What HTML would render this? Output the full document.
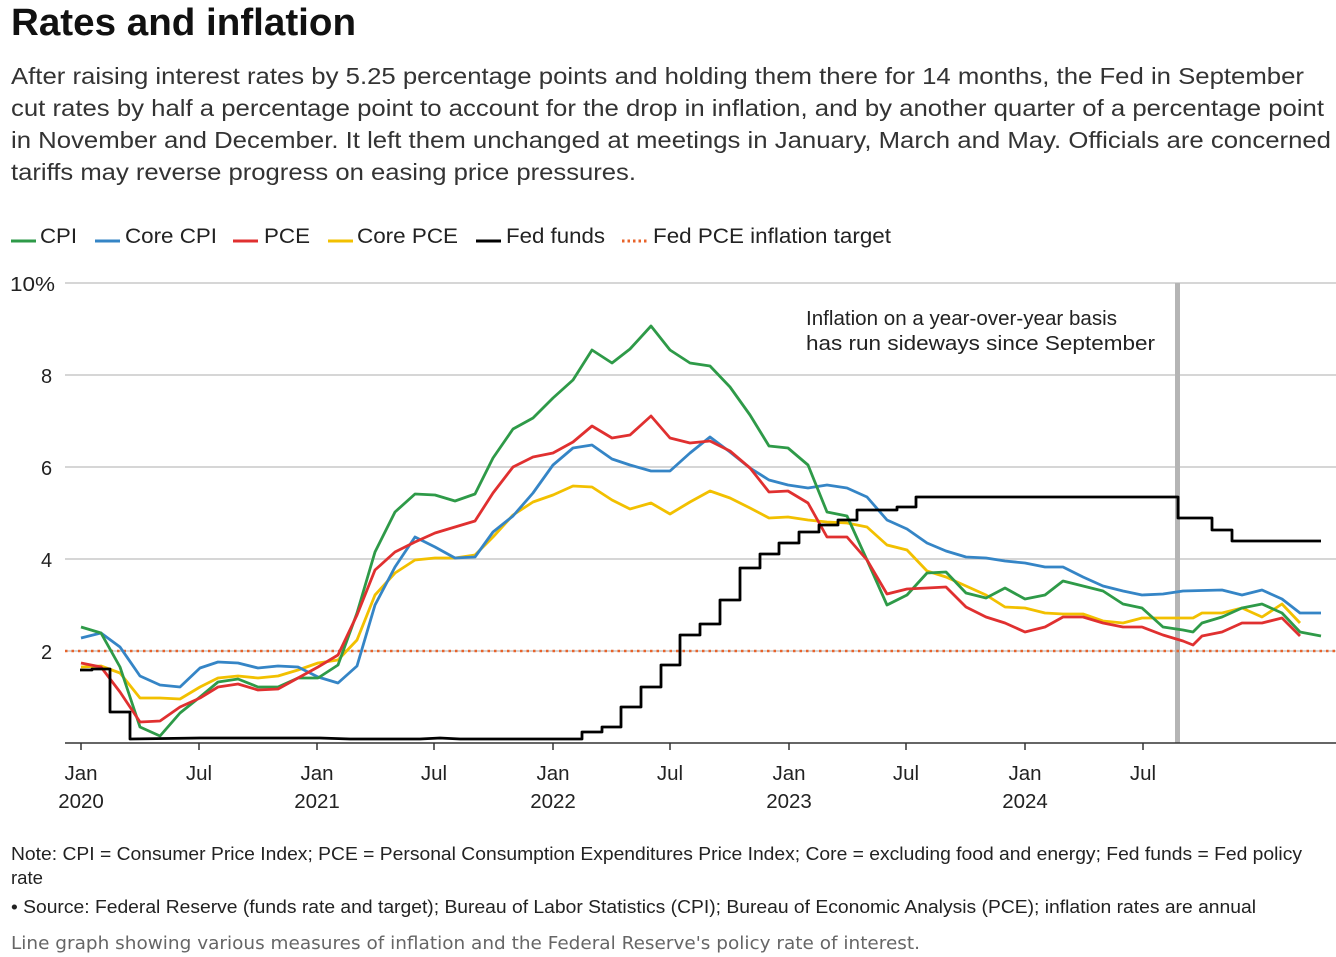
<!DOCTYPE html>
<html><head><meta charset="utf-8"><style>
body{margin:0;background:#fff;width:1336px;height:957px;overflow:hidden}
</style></head><body>
<svg width="1336" height="957" style="position:absolute;left:0;top:0" font-family="Liberation Sans, Arial, sans-serif">
<text x="11" y="35" font-size="38" font-weight="bold" fill="#111" textLength="345" lengthAdjust="spacingAndGlyphs">Rates and inflation</text>
<g font-size="23.5" fill="#333">
<text x="11" y="84" textLength="1293" lengthAdjust="spacingAndGlyphs">After raising interest rates by 5.25 percentage points and holding them there for 14 months, the Fed in September</text>
<text x="11" y="116" textLength="1313" lengthAdjust="spacingAndGlyphs">cut rates by half a percentage point to account for the drop in inflation, and by another quarter of a percentage point</text>
<text x="11" y="148" textLength="1320" lengthAdjust="spacingAndGlyphs">in November and December. It left them unchanged at meetings in January, March and May. Officials are concerned</text>
<text x="11" y="180" textLength="625" lengthAdjust="spacingAndGlyphs">tariffs may reverse progress on easing price pressures.</text>
</g>
<g font-size="21" fill="#222">
<line x1="11" y1="241" x2="36" y2="241" stroke="#2e9a48" stroke-width="3"/><text x="40" y="243" textLength="37" lengthAdjust="spacingAndGlyphs">CPI</text>
<line x1="95" y1="241" x2="120" y2="241" stroke="#3585c6" stroke-width="3"/><text x="125" y="243" textLength="92" lengthAdjust="spacingAndGlyphs">Core CPI</text>
<line x1="233" y1="241" x2="258" y2="241" stroke="#e03030" stroke-width="3"/><text x="264" y="243" textLength="46" lengthAdjust="spacingAndGlyphs">PCE</text>
<line x1="328" y1="241" x2="353" y2="241" stroke="#f2c000" stroke-width="3"/><text x="357" y="243" textLength="101" lengthAdjust="spacingAndGlyphs">Core PCE</text>
<line x1="476" y1="241" x2="501" y2="241" stroke="#000" stroke-width="3"/><text x="506" y="243" textLength="99" lengthAdjust="spacingAndGlyphs">Fed funds</text>
<line x1="622" y1="241" x2="647" y2="241" stroke="#e8632a" stroke-width="3" stroke-dasharray="2.5,3"/><text x="653" y="243" textLength="238" lengthAdjust="spacingAndGlyphs">Fed PCE inflation target</text>
</g>
<g stroke="#c8c8c8" stroke-width="1.5">
<line x1="65" y1="283" x2="1336" y2="283"/><line x1="65" y1="375" x2="1336" y2="375"/><line x1="65" y1="467" x2="1336" y2="467"/><line x1="65" y1="559" x2="1336" y2="559"/><line x1="65" y1="651" x2="1336" y2="651"/>
</g>
<g font-size="20" fill="#222">
<text x="10" y="291" textLength="45" lengthAdjust="spacingAndGlyphs">10%</text><text x="41" y="383">8</text><text x="41" y="475">6</text><text x="41" y="567">4</text><text x="41" y="659">2</text>
</g>
<rect x="1175" y="283" width="5" height="460" fill="#b5b5b5"/>
<line x1="65" y1="651" x2="1336" y2="651" stroke="#e8632a" stroke-width="2.5" stroke-dasharray="2.5,4"/>
<g fill="none" stroke-width="2.8" stroke-linejoin="round">
<polyline stroke="#f2c000" points="81,667 101,666 120,673 140,698 160,698 180,699 200,687 218,678 238,676 258,678 278,676 298,670 318,663 338,660 357,640 375,595 395,573 415,560 435,558 455,558 475,555 493,537 513,515 533,502 553,495 573,486 592,487 612,500 630,509 651,503 670,514 690,502 710,491 730,498 750,508 769,518 788,517 808,520 827,522 847,523 867,527 887,545 907,550 927,571 946,577 966,586 986,595 1005,607 1025,608 1045,613 1063,614 1083,614 1103,621 1123,623 1142,618 1163,618 1183,618 1193,618 1202,613 1222,613 1242,608 1262,617 1282,604 1300,623"/>
<polyline stroke="#3585c6" points="81,638 101,633 120,647 140,676 160,685 180,687 200,668 218,662 238,663 258,668 278,666 298,667 318,677 338,683 357,666 375,605 395,567 415,537 435,547 455,558 475,557 493,532 513,516 533,493 553,465 573,448 592,445 612,459 630,465 651,471 670,471 690,453 710,437 730,452 750,468 769,480 788,485 808,488 827,485 847,488 867,497 887,520 907,529 927,543 946,551 966,557 986,558 1005,561 1025,563 1045,567 1063,567 1083,577 1103,586 1123,591 1142,595 1163,594 1183,591 1222,590 1242,595 1262,590 1282,599 1300,613 1321,613"/>
<polyline stroke="#2e9a48" points="81,627 101,633 120,667 140,727 160,736 180,713 200,697 218,682 238,679 258,687 278,687 298,678 318,678 338,665 357,613 375,552 395,512 415,494 435,495 455,501 475,494 493,458 513,429 533,418 553,398 573,380 592,350 612,363 630,349 651,326 670,350 690,363 710,366 730,387 750,415 769,446 788,448 808,465 827,512 847,516 867,560 887,605 907,595 927,573 946,572 966,593 986,598 1005,588 1025,599 1045,595 1063,581 1083,586 1103,591 1123,604 1142,608 1163,627 1183,630 1193,632 1202,623 1222,617 1242,608 1262,604 1282,613 1300,632 1321,636"/>
<polyline stroke="#e03030" points="81,663 101,667 120,692 140,722 160,721 180,707 200,698 218,687 238,684 258,690 278,689 298,678 318,667 338,655 357,615 375,570 395,552 415,542 435,533 455,527 475,521 493,493 513,467 533,457 553,453 573,442 592,426 612,438 630,435 651,416 670,438 690,443 710,441 730,451 750,468 769,492 788,491 808,503 827,537 847,537 867,560 887,594 907,589 927,588 946,587 966,607 986,617 1005,623 1025,632 1045,627 1063,617 1083,617 1103,623 1123,627 1142,627 1163,635 1183,641 1193,645 1202,636 1222,632 1242,623 1262,623 1282,618 1300,636"/>
<polyline stroke="#000" points="80,670 92,670 92,669 110,669 110,712 130,712 130,739 200,738 320,738 350,739 420,739 440,738 460,739 582,739 582,732 602,732 602,727 621,727 621,707 641,707 641,687 661,687 661,665 680,665 680,635 700,635 700,624 720,624 720,600 740,600 740,568 760,568 760,554 779,554 779,543 799,543 799,532 819,532 819,525 838,525 838,520 857,520 857,510 897,510 897,507 916,507 916,497 1178,497 1178,518 1212,518 1212,530 1232,530 1232,541 1321,541"/>
</g>
<line x1="65" y1="743" x2="1336" y2="743" stroke="#333" stroke-width="1.5"/>
<g stroke="#333" stroke-width="1.5">
<line x1="81" y1="743" x2="81" y2="750"/><line x1="199" y1="743" x2="199" y2="750"/><line x1="317" y1="743" x2="317" y2="750"/><line x1="434" y1="743" x2="434" y2="750"/><line x1="553" y1="743" x2="553" y2="750"/><line x1="670" y1="743" x2="670" y2="750"/><line x1="789" y1="743" x2="789" y2="750"/><line x1="906" y1="743" x2="906" y2="750"/><line x1="1025" y1="743" x2="1025" y2="750"/><line x1="1143" y1="743" x2="1143" y2="750"/>
</g>
<g font-size="20.5" fill="#222" text-anchor="middle">
<text x="81" y="780">Jan</text><text x="81" y="808">2020</text>
<text x="199" y="780">Jul</text>
<text x="317" y="780">Jan</text><text x="317" y="808">2021</text>
<text x="434" y="780">Jul</text>
<text x="553" y="780">Jan</text><text x="553" y="808">2022</text>
<text x="670" y="780">Jul</text>
<text x="789" y="780">Jan</text><text x="789" y="808">2023</text>
<text x="906" y="780">Jul</text>
<text x="1025" y="780">Jan</text><text x="1025" y="808">2024</text>
<text x="1143" y="780">Jul</text>
</g>
<g font-size="20.5" fill="#222">
<text x="806" y="325" textLength="311" lengthAdjust="spacingAndGlyphs">Inflation on a year-over-year basis</text>
<text x="806" y="350" textLength="349" lengthAdjust="spacingAndGlyphs">has run sideways since September</text>
</g>
<g font-size="18" fill="#222">
<text x="11" y="860" textLength="1291" lengthAdjust="spacingAndGlyphs">Note: CPI = Consumer Price Index; PCE = Personal Consumption Expenditures Price Index; Core = excluding food and energy; Fed funds = Fed policy</text>
<text x="11" y="884" textLength="32" lengthAdjust="spacingAndGlyphs">rate</text>
<text x="11" y="913" textLength="1245" lengthAdjust="spacingAndGlyphs">• Source: Federal Reserve (funds rate and target); Bureau of Labor Statistics (CPI); Bureau of Economic Analysis (PCE); inflation rates are annual</text>
</g>
<text x="11" y="949" font-size="18" fill="#666" font-family="DejaVu Sans, Liberation Sans, sans-serif" textLength="909" lengthAdjust="spacingAndGlyphs">Line graph showing various measures of inflation and the Federal Reserve's policy rate of interest.</text>
</svg>
</body></html>
